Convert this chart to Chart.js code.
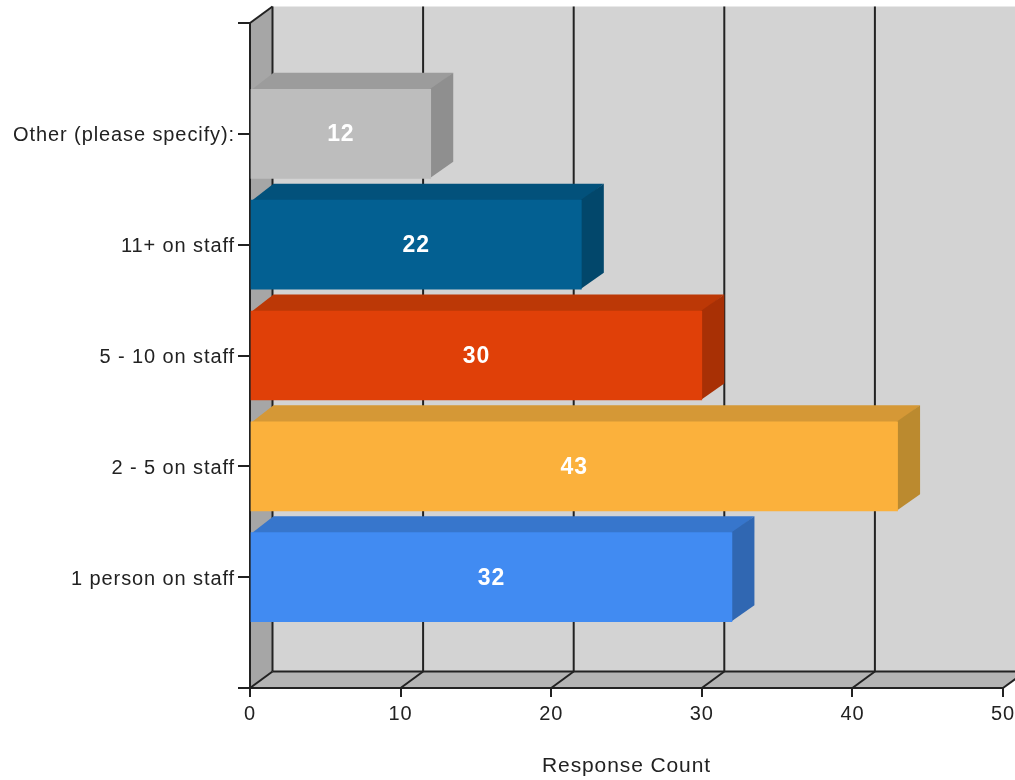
<!DOCTYPE html>
<html>
<head>
<meta charset="utf-8">
<style>
html,body{margin:0;padding:0;background:#fff;overflow:hidden}
#wrap{position:relative;width:1015px;height:780px}
</style>
<script src="https://cdn.jsdelivr.net/npm/chart.js@4"></script>
</head>
<body>
<div id="wrap"><canvas id="c" width="1015" height="780"></canvas></div>
<script>
const categories = ['Other (please specify):', '11+ on staff', '5 - 10 on staff', '2 - 5 on staff', '1 person on staff'];
const responseCount = [12, 22, 30, 43, 32];
const frontColors = ['#bdbdbd', '#036092', '#e04008', '#fbb13c', '#418bf2'];
const topColors = ['#9c9c9c', '#02517b', '#bc3806', '#d59836', '#3776cc'];
const sideColors = ['#8f8f8f', '#02476b', '#a83005', '#bb8a2f', '#3067b2'];
const xTicks = [0, 10, 20, 30, 40, 50];
const axisTitle = 'Response Count';

const DX = 22.5, DY = 16.5;
const LINE = '#222222';
const FONT = '"Liberation Sans", Arial, sans-serif';

const threeD = {
  id: 'threeD',
  beforeDraw(chart) {
    chart.ctx.letterSpacing = '0.9px';
    // the reference's category labels sit slightly below their tick marks
    const items = chart.scales.y.getLabelItems();
    if (!items._shifted) {
      items.forEach(it => { it.options.translation[1] += 2; });
      items._shifted = true;
    }
  },
  beforeDatasetsDraw(chart) {
    const {ctx, chartArea: a, scales: {x}} = chart;
    const poly = (pts, fill) => {
      ctx.beginPath();
      pts.forEach((p, i) => i ? ctx.lineTo(p[0], p[1]) : ctx.moveTo(p[0], p[1]));
      ctx.closePath();
      ctx.fillStyle = fill;
      ctx.fill();
    };
    const seg = (x1, y1, x2, y2) => {
      ctx.beginPath(); ctx.moveTo(x1, y1); ctx.lineTo(x2, y2); ctx.stroke();
    };
    ctx.save();
    const L = a.left, R = a.right, T = a.top, B = a.bottom;
    // back wall, side wall, floor
    poly([[L + DX, T - DY], [R + DX, T - DY], [R + DX, B - DY], [L + DX, B - DY]], '#d3d3d3');
    poly([[L, T], [L + DX, T - DY], [L + DX, B - DY], [L, B]], '#a6a6a6');
    poly([[L, B], [L + DX, B - DY], [R + DX, B - DY], [R, B]], '#b4b4b4');
    ctx.strokeStyle = LINE;
    ctx.lineWidth = 2;
    // grid lines on back wall and floor
    xTicks.forEach(v => {
      const px = x.getPixelForValue(v);
      seg(px + DX, T - DY, px + DX, B - DY);
      seg(px, B, px + DX, B - DY);
    });
    seg(L, T, L + DX, T - DY);
    seg(L, T, L, B);
    seg(L + DX, B - DY, R + DX, B - DY);
    seg(L - 12, B, R, B);
    // bar depth faces (overlap the front face by a pixel to hide seams)
    const meta = chart.getDatasetMeta(0);
    meta.data.forEach((el, i) => {
      const idx = i - 1;
      if (idx < 0 || idx >= responseCount.length) return;
      const half = el.height / 2;
      const t = el.y - half, b = el.y + half, l = el.base, r = el.x;
      poly([[l, t + 1], [l + DX, t - DY], [r + DX, t - DY], [r, t + 1]], topColors[idx]);
      poly([[r - 1, t], [r + DX, t - DY], [r + DX, b - DY], [r - 1, b]], sideColors[idx]);
    });
    ctx.restore();
  },
  afterDatasetsDraw(chart) {
    const {ctx} = chart;
    const meta = chart.getDatasetMeta(0);
    ctx.save();
    ctx.fillStyle = '#ffffff';
    ctx.font = 'bold 23px ' + FONT;
    ctx.textAlign = 'center';
    ctx.textBaseline = 'middle';
    meta.data.forEach((el, i) => {
      const idx = i - 1;
      if (idx < 0 || idx >= responseCount.length) return;
      ctx.fillText(String(responseCount[idx]), (el.base + el.x) / 2, el.y + 1);
    });
    ctx.restore();
  }
};

new Chart(document.getElementById('c'), {
  type: 'bar',
  plugins: [threeD],
  data: {
    labels: ['', ...categories, ''],
    datasets: [{
      data: [null, ...responseCount, null],
      backgroundColor: ['transparent', ...frontColors, 'transparent'],
      borderWidth: 0,
      barThickness: 89
    }]
  },
  options: {
    indexAxis: 'y',
    responsive: false,
    animation: false,
    layout: {padding: {top: 23, right: 12, bottom: 0, left: 0}},
    plugins: {legend: {display: false}, tooltip: {enabled: false}},
    scales: {
      x: {
        type: 'linear',
        min: 0,
        max: 50,
        afterFit(s) { s.height = 92; s.paddingRight = 0; s.paddingLeft = 0; },
        afterBuildTicks(s) { s.ticks = xTicks.map(value => ({value})); },
        grid: {drawOnChartArea: false, drawTicks: true, tickLength: 9, tickColor: LINE, lineWidth: 2},
        border: {display: false},
        ticks: {color: LINE, padding: 5, maxRotation: 0, font: {family: FONT, size: 20}},
        title: {display: true, text: axisTitle, color: LINE, padding: {top: 0, bottom: 1}, font: {family: FONT, size: 21}}
      },
      y: {
        type: 'category',
        offset: false,
        afterFit(s) { s.width = 250; },
        grid: {offset: false, drawOnChartArea: false, drawTicks: true, tickLength: 12, tickColor: LINE, lineWidth: 2},
        border: {display: false},
        ticks: {color: LINE, padding: 3, autoSkip: false, font: {family: FONT, size: 20}}
      }
    }
  }
});
</script>
</body>
</html>
